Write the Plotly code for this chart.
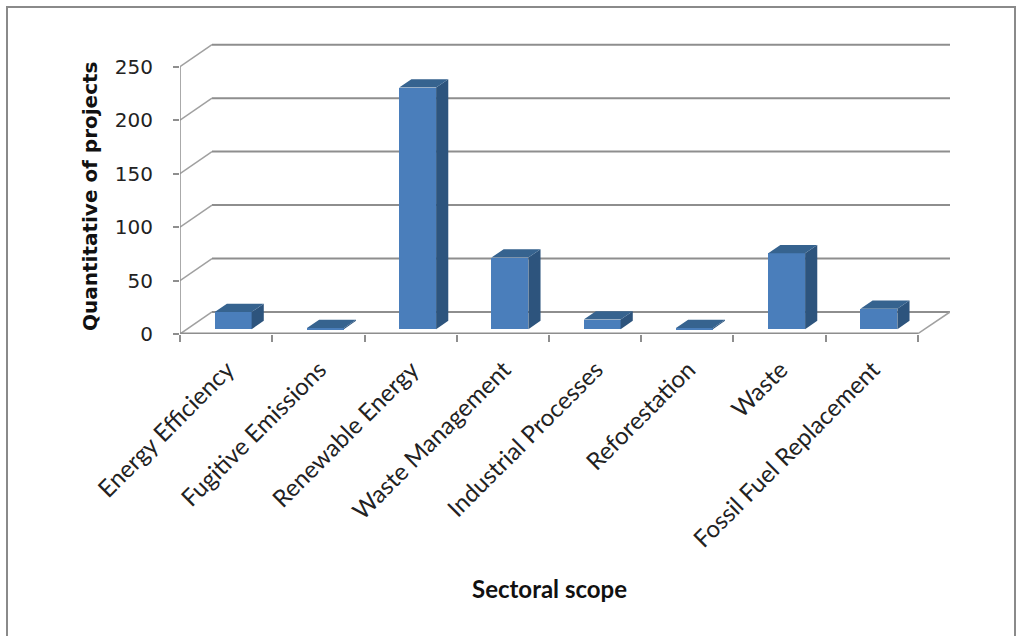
import plotly.graph_objects as go

# Number of projects per sectoral scope
categories = [
    "Energy Efficiency",
    "Fugitive Emissions",
    "Renewable Energy",
    "Waste Management",
    "Industrial Processes",
    "Reforestation",
    "Waste",
    "Fossil Fuel Replacement",
]
projects = [16, 1, 226, 67, 9, 1, 71, 19]
y_ticks = [0, 50, 100, 150, 200, 250]

# Pseudo-3D geometry (oblique projection), in axis units
DEPTH_X = 0.347      # horizontal shift of the back wall (category units)
DEPTH_Y = 20.6       # vertical shift of the back wall (value units)
BAR_W = 0.40         # bar width (category units)
BAR_D0 = 0.22        # bar front plane position (fraction of depth)
BAR_T = 0.38         # bar thickness (fraction of depth)

FRONT = "#4A7EBB"
TOP = "#36638F"
SIDE = "#2D547D"
GRID = "#8E8E8E"

n = len(categories)
y_max = 275

fig = go.Figure()

# Walls, floor and gridlines
shapes = []
for v in y_ticks:
    shapes.append(dict(type="line", xref="x", yref="y", layer="below",
                       x0=DEPTH_X, x1=n + DEPTH_X, y0=v + DEPTH_Y, y1=v + DEPTH_Y,
                       line=dict(color=GRID, width=2)))
    shapes.append(dict(type="line", xref="x", yref="y", layer="below",
                       x0=0, x1=DEPTH_X, y0=v, y1=v + DEPTH_Y,
                       line=dict(color="#A0A0A0", width=1.5)))
# front floor edge, right floor edge, value axis
shapes.append(dict(type="line", xref="x", yref="y", layer="below",
                   x0=0, x1=n, y0=0.4, y1=0.4, line=dict(color=GRID, width=2)))
shapes.append(dict(type="line", xref="x", yref="y", layer="below",
                   x0=n, x1=n + DEPTH_X, y0=0.4, y1=DEPTH_Y,
                   line=dict(color="#A0A0A0", width=1.5)))
shapes.append(dict(type="line", xref="x", yref="y", layer="below",
                   x0=0, x1=0, y0=0, y1=250, line=dict(color=GRID, width=1.5)))

# Outer chart frame (paper coordinates)
L, R, T, B = 180, 950, 40, 334
def px(p):
    return (p - L) / (R - L)
def py(p):
    return (B - p) / (B - T)
shapes.append(dict(type="rect", xref="paper", yref="paper",
                   x0=px(7), x1=px(1015), y0=py(644), y1=py(7),
                   line=dict(color="#8A8A8A", width=2)))

# Bars: front faces
centers = [i + 0.5 + BAR_D0 * DEPTH_X for i in range(n)]
base = BAR_D0 * DEPTH_Y
fig.add_trace(go.Bar(
    x=centers, y=projects, base=[base] * n, width=BAR_W,
    marker=dict(color=FRONT, line=dict(width=0)),
    hoverinfo="skip", showlegend=False,
))

# Bars: top and side faces
tdx, tdy = BAR_T * DEPTH_X, BAR_T * DEPTH_Y
top_x, top_y, side_x, side_y = [], [], [], []
for c, v in zip(centers, projects):
    x0, x1 = c - BAR_W / 2, c + BAR_W / 2
    yb, yt = base, base + v
    top_x += [x0, x1, x1 + tdx, x0 + tdx, x0, None]
    top_y += [yt, yt, yt + tdy, yt + tdy, yt, None]
    side_x += [x1, x1, x1 + tdx, x1 + tdx, x1, None]
    side_y += [yb, yt, yt + tdy, yb + tdy, yb, None]

fig.add_trace(go.Scatter(x=side_x, y=side_y, mode="lines", fill="toself",
                         fillcolor=SIDE, line=dict(width=0, color=SIDE),
                         hoverinfo="skip", showlegend=False))
fig.add_trace(go.Scatter(x=top_x, y=top_y, mode="lines", fill="toself",
                         fillcolor=TOP, line=dict(width=0, color=TOP),
                         hoverinfo="skip", showlegend=False))

# Invisible trace so the boundary tick axis gets drawn
fig.add_trace(go.Scatter(x=[0], y=[0], xaxis="x2", mode="markers",
                         marker=dict(opacity=0), hoverinfo="skip", showlegend=False))

x_range = [0, n + DEPTH_X]

fig.update_layout(
    width=1017, height=636,
    margin=dict(l=L, r=1017 - R, t=T, b=636 - B),
    paper_bgcolor="white", plot_bgcolor="white",
    shapes=shapes,
    bargap=0,
    xaxis=dict(
        range=x_range, tickvals=centers, ticktext=categories,
        tickangle=-45, ticks="", showgrid=False, zeroline=False, showline=False,
        tickfont=dict(family="Lato, Noto Sans, sans-serif", size=24, color="#222222"),
        ticklabelstandoff=16, ticklabelshift=-6,
    ),
    xaxis2=dict(
        range=x_range, overlaying="x", anchor="y", side="bottom",
        tickvals=list(range(n + 1)), ticks="outside", ticklen=7, tickwidth=1.5,
        tickcolor=GRID, showticklabels=False, showgrid=False, zeroline=False,
        showline=False,
    ),
    yaxis=dict(
        range=[0, y_max], tickvals=y_ticks, ticks="outside", ticklen=6,
        tickwidth=1.5, tickcolor=GRID, showgrid=False, zeroline=False,
        showline=False, ticklabelstandoff=16,
        tickfont=dict(family="DejaVu Sans, Verdana, sans-serif", size=20, color="#222222"),
    ),
    annotations=[
        dict(text="<b>Quantitative of projects</b>", xref="paper", yref="paper",
             x=px(90), y=py(196), xanchor="center", yanchor="middle",
             textangle=-90, showarrow=False,
             font=dict(family="DejaVu Sans, Verdana, sans-serif", size=20, color="#111111")),
        dict(text="<b>Sectoral scope</b>", xref="paper", yref="paper",
             x=px(549), y=py(588), xanchor="center", yanchor="middle",
             showarrow=False,
             font=dict(family="Lato, Noto Sans, sans-serif", size=24, color="#111111")),
    ],
)

fig.write_html("out.html")
